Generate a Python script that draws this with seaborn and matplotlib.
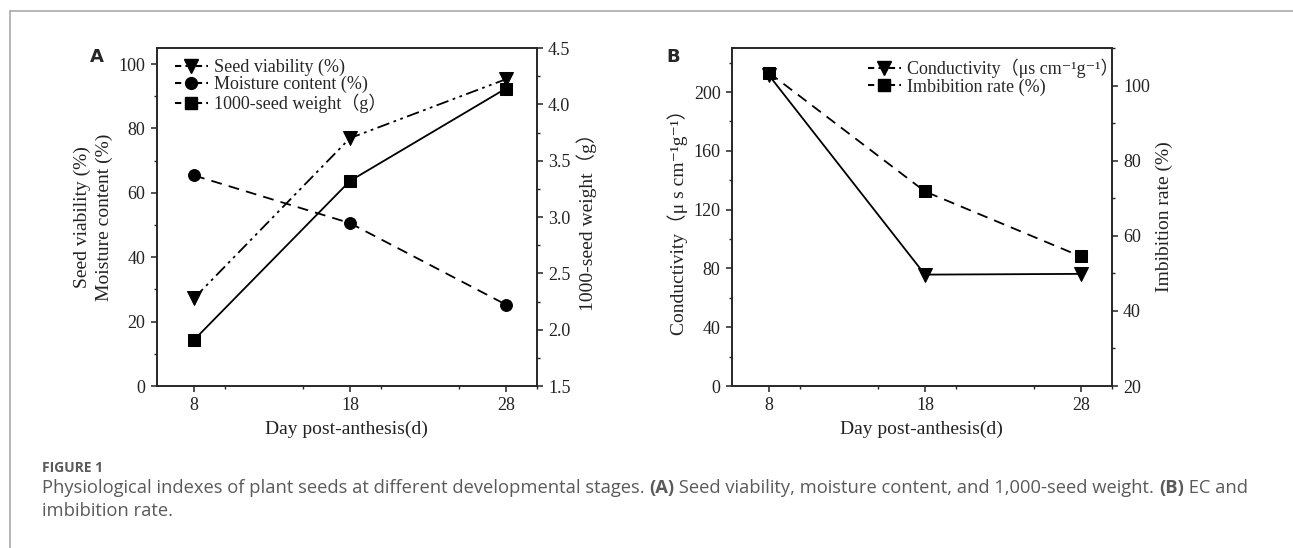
import matplotlib
matplotlib.use("Agg")
import matplotlib.pyplot as plt
from matplotlib.ticker import MultipleLocator
from matplotlib.lines import Line2D
import seaborn as sns

# data
days = [8, 18, 28]
viability = [27.3, 77.0, 95.3]        # %
moisture = [65.4, 50.6, 25.3]         # %
seed_weight = [1.91, 3.32, 4.14]      # g
conductivity = [211.3, 75.8, 76.3]    # uS cm-1 g-1
imbibition = [103.4, 71.8, 54.5]      # %

sns.set_style("ticks")
serif = ["Liberation Serif", "DejaVu Serif", "Noto Sans CJK SC"]
plt.rcParams["font.family"] = serif
plt.rcParams["axes.linewidth"] = 1.2
plt.rcParams["xtick.major.width"] = 1.1
plt.rcParams["ytick.major.width"] = 1.1
plt.rcParams["xtick.minor.width"] = 1.0
plt.rcParams["ytick.minor.width"] = 1.0
plt.rcParams["xtick.major.size"] = 4.5
plt.rcParams["ytick.major.size"] = 4.5
plt.rcParams["xtick.minor.size"] = 2.5
plt.rcParams["ytick.minor.size"] = 2.5
plt.rcParams["xtick.direction"] = "out"
plt.rcParams["ytick.direction"] = "out"

fig = plt.figure(figsize=(12.93, 5.48), dpi=100)

TICK_FS = 13
LAB_FS = 14
LEG_FS = 13
TXT = "#222222"

dashdotdot = (0, (7, 2.5, 1.5, 2.5, 1.5, 2.5))
dashed = (0, (6, 4))


def style_x(ax):
    ax.set_xlim(5.6, 30)
    ax.set_xticks(days)
    ax.xaxis.set_minor_locator(MultipleLocator(5))
    ax.set_xlabel("Day post-anthesis(d)", fontsize=LAB_FS, color=TXT, labelpad=5)
    ax.tick_params(axis="both", labelsize=TICK_FS, colors=TXT)


# ---------- panel A ----------
axA = fig.add_axes([0.1212, 0.2956, 0.2941, 0.6168])
axA2 = axA.twinx()

sns.lineplot(x=days, y=viability, ax=axA, color="black", marker="v", markersize=10,
             markeredgecolor="black", linestyle=dashdotdot, linewidth=1.3)
sns.lineplot(x=days, y=moisture, ax=axA, color="black", marker="o", markersize=8.5,
             markeredgecolor="black", linestyle=dashed, linewidth=1.3)
sns.lineplot(x=days, y=seed_weight, ax=axA2, color="black", marker="s", markersize=8,
             markeredgecolor="black", linestyle="-", linewidth=1.3)

axA.set_ylim(0, 105)
axA.yaxis.set_major_locator(MultipleLocator(20))
axA.yaxis.set_minor_locator(MultipleLocator(10))
axA2.set_ylim(1.5, 4.5)
axA2.yaxis.set_major_locator(MultipleLocator(0.5))
axA2.yaxis.set_minor_locator(MultipleLocator(0.25))
axA2.set_yticklabels([f"{v:.1f}" for v in axA2.get_yticks()])
style_x(axA)
axA2.tick_params(axis="y", labelsize=TICK_FS, colors=TXT)
axA.set_ylabel("Seed viability (%)\nMoisture content (%)", fontsize=LAB_FS,
               color=TXT, linespacing=1.35)
axA2.set_ylabel("1000-seed weight（g）", fontsize=LAB_FS, color=TXT)

handlesA = [
    Line2D([], [], color="black", marker="v", markersize=10, linestyle=(0, (3, 2))),
    Line2D([], [], color="black", marker="o", markersize=8.5, linestyle=(0, (3, 2))),
    Line2D([], [], color="black", marker="s", markersize=8, linestyle=(0, (3, 2))),
]
axA2.legend(handlesA, ["Seed viability (%)", "Moisture content (%)", "1000-seed weight（g）"],
            loc="upper left", bbox_to_anchor=(0.02, 1.0), frameon=False, fontsize=LEG_FS,
            handlelength=1.8, handletextpad=0.35, labelspacing=0.0, borderaxespad=0.2)

# ---------- panel B ----------
axB = fig.add_axes([0.5659, 0.2956, 0.2941, 0.6168])
axB2 = axB.twinx()

sns.lineplot(x=days, y=conductivity, ax=axB, color="black", marker="v", markersize=10,
             markeredgecolor="black", linestyle="-", linewidth=1.3)
sns.lineplot(x=days, y=imbibition, ax=axB2, color="black", marker="s", markersize=8,
             markeredgecolor="black", linestyle=dashed, linewidth=1.3)

axB.set_ylim(0, 230)
axB.yaxis.set_major_locator(MultipleLocator(40))
axB.yaxis.set_minor_locator(MultipleLocator(20))
axB2.set_ylim(20, 110)
axB2.yaxis.set_major_locator(MultipleLocator(20))
axB2.yaxis.set_minor_locator(MultipleLocator(10))
style_x(axB)
axB2.tick_params(axis="y", labelsize=TICK_FS, colors=TXT)
axB.set_ylabel("Conductivity（μ s cm⁻¹g⁻¹）", fontsize=LAB_FS, color=TXT)
axB2.set_ylabel("Imbibition rate (%)", fontsize=LAB_FS, color=TXT)

handlesB = [
    Line2D([], [], color="black", marker="v", markersize=10, linestyle=(0, (3, 2))),
    Line2D([], [], color="black", marker="s", markersize=8, linestyle=(0, (3, 2))),
]
axB2.legend(handlesB, ["Conductivity（μs cm⁻¹g⁻¹）", "Imbibition rate (%)"],
            loc="upper left", bbox_to_anchor=(0.33, 1.0), frameon=False, fontsize=LEG_FS,
            handlelength=1.8, handletextpad=0.35, labelspacing=0.0, borderaxespad=0.2)

# panel letters
fig.text(97 / 1293, 1 - 57 / 548, "A", fontsize=13, fontweight="bold",
         family="DejaVu Sans", ha="center", va="center")
fig.text(673 / 1293, 1 - 57 / 548, "B", fontsize=13, fontweight="bold",
         family="DejaVu Sans", ha="center", va="center")

# frame lines of the article figure box
fig.add_artist(Line2D([10 / 1293, 1.0], [1 - 11 / 548, 1 - 11 / 548],
                      transform=fig.transFigure, color="#aaaaaa", linewidth=1.2))
fig.add_artist(Line2D([10 / 1293, 10 / 1293], [0, 1 - 11 / 548],
                      transform=fig.transFigure, color="#aaaaaa", linewidth=1.2))

# caption
cap_color = "#5a5a5a"
fig.text(42 / 1293, 1 - 468 / 548, "FIGURE 1", fontsize=10, fontweight="bold",
         family="Open Sans", color=cap_color, va="center")

renderer = fig.canvas.get_renderer()
pieces = [
    ("Physiological indexes of plant seeds at different developmental stages. ", "normal"),
    ("(A)", "bold"),
    (" Seed viability, moisture content, and 1,000-seed weight. ", "normal"),
    ("(B)", "bold"),
    (" EC and", "normal"),
]
x = 42 / 1293
y = 1 - 488 / 548
for txt, weight in pieces:
    t = fig.text(x, y, txt, fontsize=13.2, fontweight=weight, family="Open Sans",
                 color=cap_color, va="center")
    bb = t.get_window_extent(renderer=renderer)
    x = bb.x1 / fig.bbox.width
fig.text(42 / 1293, 1 - 511 / 548, "imbibition rate.", fontsize=13.2, family="Open Sans",
         color=cap_color, va="center")

fig.savefig("out.png", dpi=100)
